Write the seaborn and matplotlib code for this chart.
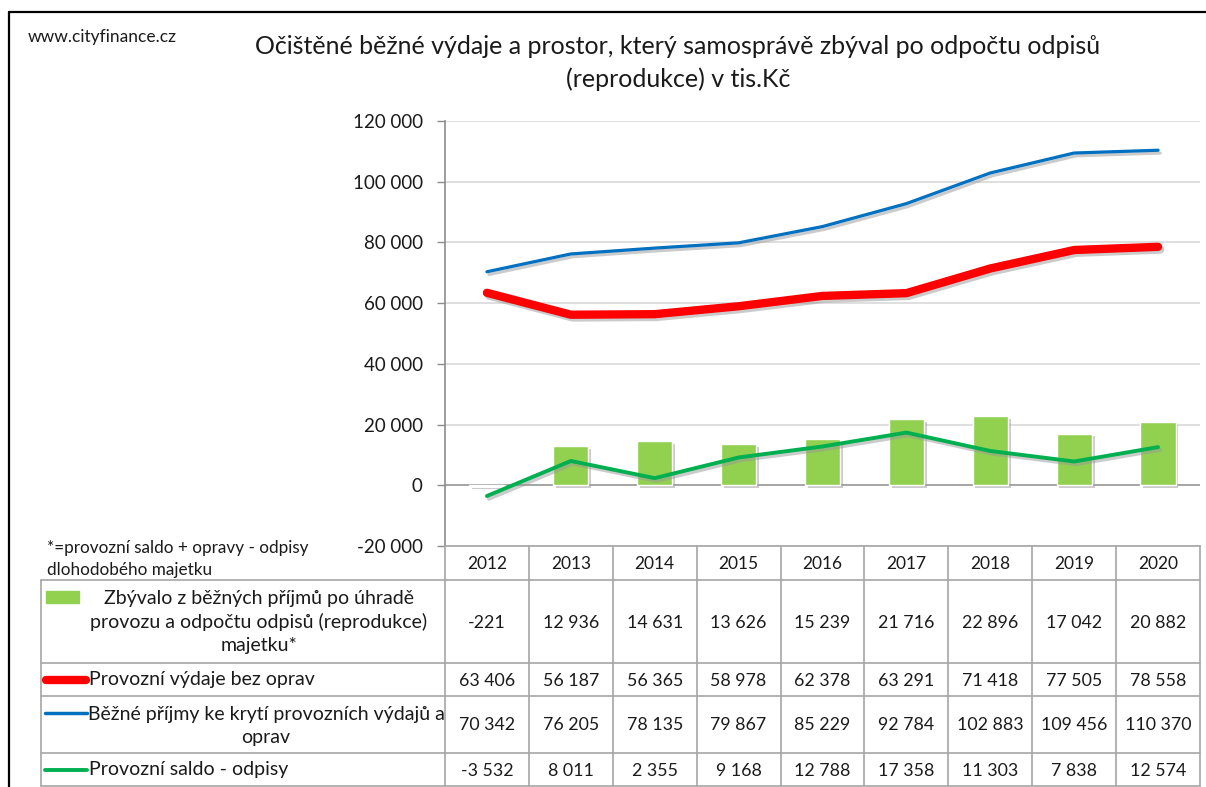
import matplotlib.pyplot as plt
import matplotlib.patheffects as pe
from matplotlib.ticker import FuncFormatter
import numpy as np
import pandas as pd
import seaborn as sns

# Data (tis. Kč)
years = ['2012', '2013', '2014', '2015', '2016', '2017', '2018', '2019', '2020']
zbyvalo = [-221, 12936, 14631, 13626, 15239, 21716, 22896, 17042, 20882]
vydaje = [63406, 56187, 56365, 58978, 62378, 63291, 71418, 77505, 78558]
prijmy = [70342, 76205, 78135, 79867, 85229, 92784, 102883, 109456, 110370]
saldo = [-3532, 8011, 2355, 9168, 12788, 17358, 11303, 7838, 12574]

row_labels = ['Zbývalo z běžných příjmů po úhradě\nprovozu a odpočtu odpisů (reprodukce)\nmajetku*',
              'Provozní výdaje bez oprav',
              'Běžné příjmy ke krytí provozních výdajů a\noprav',
              'Provozní saldo - odpisy']
title = 'Očištěné běžné výdaje a prostor, který samosprávě zbýval po odpočtu odpisů\n(reprodukce) v tis.Kč'
footnote = '*=provozní saldo + opravy - odpisy\ndlohodobého majetku'

df = pd.DataFrame({'year': years, 'pos': np.arange(len(years)), 'zbyvalo': zbyvalo,
                   'vydaje': vydaje, 'prijmy': prijmy, 'saldo': saldo})

c_bar = '#92D050'
c_red = '#FF0000'
c_blue = '#0070C0'
c_green = '#00B050'
c_grid = '#D9D9D9'
c_tab = '#A6A6A6'
c_txt = '#1a1a1a'

sns.set_style('white')
plt.rcParams['font.family'] = ['Lato', 'DejaVu Sans']


def fmt(v):
    return f'{v:,.0f}'.replace(',', ' ')


fig = plt.figure(figsize=(12.06, 7.87), dpi=100)
W, H = 1206, 787
x0, x1 = 445, 1200
ytop, ybot = 121, 546
ax = fig.add_axes([x0 / W, 1 - ybot / H, (x1 - x0) / W, (ybot - ytop) / H])

shadow_bar = [pe.SimplePatchShadow(offset=(2, -2), shadow_rgbFace='#999999', alpha=0.5), pe.Normal()]
shadow_line = [pe.SimpleLineShadow(offset=(1.5, -2), shadow_color='#999999', alpha=0.5), pe.Normal()]

sns.barplot(data=df, x='year', y='zbyvalo', color=c_bar, saturation=1, width=0.42, ax=ax, zorder=3)
for p in ax.patches:
    p.set_path_effects(shadow_bar)
sns.lineplot(data=df, x='pos', y='prijmy', color=c_blue, lw=2.3, ax=ax, zorder=4)
sns.lineplot(data=df, x='pos', y='vydaje', color=c_red, lw=6, ax=ax, zorder=4,
             solid_capstyle='round')
sns.lineplot(data=df, x='pos', y='saldo', color=c_green, lw=2.8, ax=ax, zorder=5)
for ln in ax.lines:
    ln.set_path_effects(shadow_line)

ax.axhline(0, color='#A0A0A0', lw=1.3, zorder=2)
ax.set_xlim(-0.5, len(years) - 0.5)
ax.set_ylim(-20000, 120000)
ax.set_yticks(np.arange(-20000, 120001, 20000))
ax.yaxis.set_major_formatter(FuncFormatter(lambda v, p: fmt(v)))
ax.yaxis.grid(True, color=c_grid, lw=1.2, zorder=0)
ax.set_xticks([])
ax.set_xlabel('')
ax.set_ylabel('')
ax.tick_params(axis='y', left=True, length=6, width=1, color='#8C8C8C', pad=10,
               labelsize=13.5, labelcolor=c_txt)
for s in ['top', 'right']:
    ax.spines[s].set_visible(False)
ax.spines['left'].set_color('#8C8C8C')
ax.spines['left'].set_linewidth(1.2)
ax.spines['bottom'].set_color(c_tab)
ax.spines['bottom'].set_linewidth(1.2)

# overlay in pixel coordinates for frame, titles and data table
tab = fig.add_axes([0, 0, 1, 1])
tab.set_xlim(0, W)
tab.set_ylim(H, 0)
tab.axis('off')
tab.patch.set_alpha(0)

tab.plot([9, W], [12, 12], color='black', lw=1.6)
tab.plot([9, 9], [12, H], color='black', lw=1.6)

tab.text(28, 37, 'www.cityfinance.cz', fontsize=12.5, va='center', ha='left', color=c_txt)
tab.text(678, 63, title, fontsize=18, ha='center', va='center', linespacing=1.5, color=c_txt)

tab.text(47, 559, footnote, fontsize=12.3, ha='left', va='center', linespacing=1.45, color=c_txt)

cw = (x1 - x0) / len(years)
rows = [546, 580, 663, 696, 753, 786]
lab_left = 41
for y in rows[1:]:
    tab.plot([lab_left, x1], [y, y], color=c_tab, lw=1.2)
tab.plot([lab_left, lab_left], [rows[1], rows[-1]], color=c_tab, lw=1.2)
for i in range(len(years) + 1):
    tab.plot([x0 + i * cw] * 2, [rows[0], rows[-1]], color=c_tab, lw=1.2)

table_vals = [zbyvalo, vydaje, prijmy, saldo]
for i, yr in enumerate(years):
    cx = x0 + (i + 0.5) * cw
    tab.text(cx, (rows[0] + rows[1]) / 2 + 1, yr, fontsize=12.5, ha='center', va='center', color=c_txt)
    for r, vals in enumerate(table_vals):
        cy = (rows[r + 1] + rows[r + 2]) / 2 + 1
        tab.text(cx, cy, fmt(vals[i]), fontsize=12.8, ha='center', va='center', color=c_txt)

# legend keys and row labels
tab.add_patch(plt.Rectangle((46, 591), 33, 12, color=c_bar))
tab.text(259, 622, row_labels[0], fontsize=14, ha='center', va='center', linespacing=1.4, color=c_txt)
tab.plot([46, 86], [680, 680], color=c_red, lw=6, solid_capstyle='round')
tab.text(89, 680, row_labels[1], fontsize=14, ha='left', va='center', color=c_txt)
tab.plot([45, 87], [713, 713], color=c_blue, lw=2.5, solid_capstyle='round')
tab.text(266, 726, row_labels[2], fontsize=14, ha='center', va='center', linespacing=1.45, color=c_txt)
tab.plot([45, 87], [770, 770], color=c_green, lw=2.8, solid_capstyle='round')
tab.text(89, 770, row_labels[3], fontsize=14, ha='left', va='center', color=c_txt)

fig.savefig('out.png', dpi=100)
